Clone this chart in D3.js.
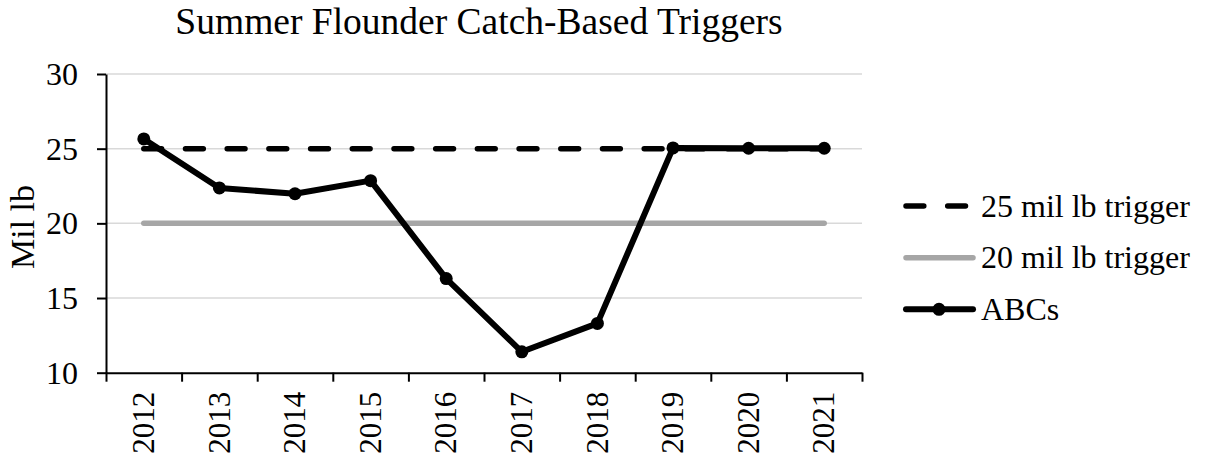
<!DOCTYPE html>
<html>
<head>
<meta charset="utf-8">
<script src="https://cdn.jsdelivr.net/npm/d3@7/dist/d3.min.js"></script>
<style>
  body { margin: 0; background: #fff; }
  text { font-family: "Liberation Serif", "Times New Roman", serif; fill: #000; }
</style>
</head>
<body>
<svg id="chart" width="1206" height="461"></svg>
<script>
"use strict";

// data
var years = ["2012", "2013", "2014", "2015", "2016", "2017", "2018", "2019", "2020", "2021"];
var abcs = [25.65, 22.37, 21.98, 22.86, 16.3, 11.4, 13.3, 25.05, 25.03, 25.03];
var trigger25 = [25, 25, 25, 25, 25, 25, 25, 25, 25, 25];
var trigger20 = [20, 20, 20, 20, 20, 20, 20, 20, 20, 20];
var yTicks = [10, 15, 20, 25, 30];
var legendLabels = ["25 mil lb trigger", "20 mil lb trigger", "ABCs"];

var svg = d3.select("#chart");

var PLOT = { LEFT: 106, RIGHT: 862, TOP: 74, BOTTOM: 372.7 };

var x = d3.scaleBand().domain(years).range([PLOT.LEFT, PLOT.RIGHT]).padding(0);
var xEdge = d3.scaleLinear().domain([0, years.length]).range([PLOT.LEFT, PLOT.RIGHT]);
var y = d3.scaleLinear().domain([10, 30]).range([PLOT.BOTTOM, PLOT.TOP]);

var cx = function(d, i) { return x(years[i]) + x.bandwidth() / 2; };

// title
svg.append("text")
    .attr("x", 479).attr("y", 33.5)
    .attr("text-anchor", "middle")
    .style("font-size", "37.5px")
    .text("Summer Flounder Catch-Based Triggers");

// gridlines
svg.append("g")
    .selectAll("line")
    .data(yTicks.slice(1))
    .enter().append("line")
    .attr("x1", PLOT.LEFT).attr("x2", PLOT.RIGHT)
    .attr("y1", function(d) { return y(d); })
    .attr("y2", function(d) { return y(d); })
    .attr("stroke", "#d9d9d9")
    .attr("stroke-width", 1.5);

// y axis
var yAxis = svg.append("g")
    .attr("transform", "translate(" + PLOT.LEFT + ",0)")
    .call(d3.axisLeft(y).tickValues(yTicks).tickSize(9).tickSizeOuter(0).tickFormat(d3.format("d")));
yAxis.select(".domain").attr("stroke", "#000").attr("stroke-width", 2);
yAxis.selectAll(".tick line").attr("stroke", "#000").attr("stroke-width", 2);
yAxis.selectAll(".tick text")
    .attr("x", -28).attr("dy", "0.33em")
    .style("font-size", "32px");

// x axis (ticks at category edges)
var xAxis = svg.append("g")
    .attr("transform", "translate(0," + PLOT.BOTTOM + ")")
    .call(d3.axisBottom(xEdge).ticks(years.length).tickSize(9).tickSizeOuter(0).tickFormat(""));
xAxis.select(".domain").attr("stroke", "#000").attr("stroke-width", 2);
xAxis.selectAll(".tick line").attr("stroke", "#000").attr("stroke-width", 2);

svg.append("g")
    .selectAll("text")
    .data(years)
    .enter().append("text")
    .attr("transform", function(d) {
        return "translate(" + (x(d) + x.bandwidth() / 2) + "," + (PLOT.BOTTOM + 19) + ") rotate(-90)";
    })
    .attr("text-anchor", "end")
    .attr("dy", "0.33em")
    .style("font-size", "31px")
    .text(function(d) { return d; });

// y axis title
svg.append("text")
    .attr("transform", "translate(22.5,227) rotate(-90)")
    .attr("text-anchor", "middle")
    .attr("dy", "0.34em")
    .style("font-size", "34px")
    .text("Mil lb");

// series lines
var line = d3.line()
    .x(cx)
    .y(function(d) { return y(d); });

svg.append("path")
    .datum(trigger20)
    .attr("d", line)
    .attr("fill", "none")
    .attr("stroke", "#a6a6a6")
    .attr("stroke-width", 5.5)
    .attr("stroke-linecap", "round");

svg.append("path")
    .datum(trigger25)
    .attr("d", line)
    .attr("fill", "none")
    .attr("stroke", "#000")
    .attr("stroke-width", 5.5)
    .attr("stroke-linecap", "round")
    .attr("stroke-dasharray", "17.8,23.9");

svg.append("path")
    .datum(abcs)
    .attr("d", line)
    .attr("fill", "none")
    .attr("stroke", "#000")
    .attr("stroke-width", 6)
    .attr("stroke-linejoin", "round");

svg.append("g")
    .selectAll("circle")
    .data(abcs)
    .enter().append("circle")
    .attr("cx", cx)
    .attr("cy", function(d) { return y(d); })
    .attr("r", 6.5)
    .attr("fill", "#000");

// legend
var legendY = [206, 257.7, 309.3];
var legend = svg.append("g");

legend.append("line")
    .attr("x1", 906).attr("x2", 966).attr("y1", legendY[0]).attr("y2", legendY[0])
    .attr("stroke", "#000").attr("stroke-width", 5.5)
    .attr("stroke-linecap", "round").attr("stroke-dasharray", "17.8,23.9");

legend.append("line")
    .attr("x1", 906).attr("x2", 973).attr("y1", legendY[1]).attr("y2", legendY[1])
    .attr("stroke", "#a6a6a6").attr("stroke-width", 5.5)
    .attr("stroke-linecap", "round");

legend.append("line")
    .attr("x1", 906).attr("x2", 973).attr("y1", legendY[2]).attr("y2", legendY[2])
    .attr("stroke", "#000").attr("stroke-width", 6)
    .attr("stroke-linecap", "round");

legend.append("circle")
    .attr("cx", 939).attr("cy", legendY[2]).attr("r", 6.5)
    .attr("fill", "#000");

legend.selectAll("text")
    .data(legendLabels)
    .enter().append("text")
    .attr("x", 981)
    .attr("y", function(d, i) { return legendY[i]; })
    .attr("dy", "0.33em")
    .style("font-size", "32px")
    .text(function(d) { return d; });
</script>
</body>
</html>
